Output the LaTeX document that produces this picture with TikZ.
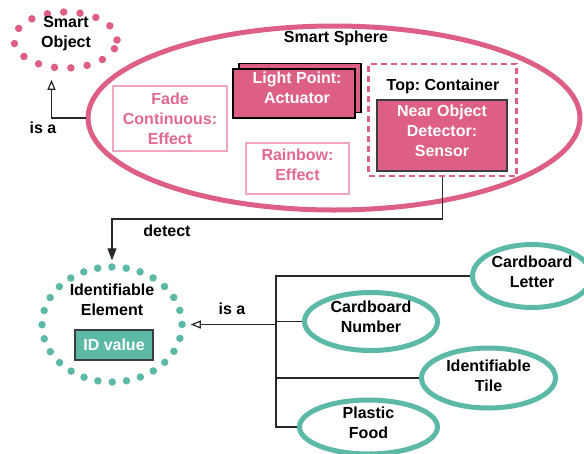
\documentclass[tikz,border=0pt]{standalone}
\usepackage{fontspec}
\setmainfont{Liberation Sans}
\usetikzlibrary{shapes.geometric,arrows.meta,calc}
\definecolor{pk}{RGB}{221,95,133}
\definecolor{pkl}{RGB}{240,165,192}
\definecolor{pkt}{RGB}{226,104,144}
\definecolor{tl}{RGB}{91,185,165}
\definecolor{dk}{RGB}{60,60,60}
\definecolor{ln}{RGB}{40,40,40}
\frenchspacing
\begin{document}
\begin{tikzpicture}[x=1pt,y=-1pt,font=\fontsize{16}{20}\selectfont\bfseries,
  ring/.style={ellipse,draw,inner sep=0pt},
  thickring/.style={ring,line width=5pt},
  dotring/.style={ring,line width=7.5pt,line cap=round},
  effectbox/.style={rectangle,draw=pkl,line width=1.5pt,text=pkt,align=center,inner sep=0pt},
  pinkbox/.style={rectangle,fill=pk,draw=dk,line width=1.2pt,text=white,align=center,inner sep=0pt},
  conn/.style={draw=ln,line width=1.3pt},
  opentip/.style={-{Triangle[open,length=10pt,width=8pt,line width=1.2pt]}},
  filltip/.style={-{Triangle[length=12pt,width=9pt]}},
  txt/.style={align=center,text=black,inner sep=0pt}
]
\useasboundingbox (0,0) rectangle (584,453);

% Smart Sphere
\node[thickring,draw=pk,minimum width=492pt,minimum height=184pt] (sphere) at (334,118) {};
\node[txt] (spherelbl) at (336,38) {Smart Sphere};

% Smart Object
\node[dotring,draw=pk,dash pattern=on 0pt off 16.4pt,minimum width=103pt,minimum height=56pt] (smartobj) at (65.5,40) {};
\node[txt] (smartobjlbl) at (66,34) {Smart\\Object};

% Fade Continuous
\node[effectbox,minimum width=114pt,minimum height=65pt] (fade) at (170,118.5) {Fade\\Continuous:\\Effect};

% Light Point
\node[pinkbox,draw=black,line width=1.5pt,minimum width=122pt,minimum height=49pt] (lightback) at (300,88) {};
\node[pinkbox,draw=black,line width=1.5pt,minimum width=122pt,minimum height=49pt] (light) at (294,93.5) {};
\node[txt,text=white] (lightlbl) at (297,88) {Light Point:\\Actuator};

% Rainbow
\node[effectbox,minimum width=103pt,minimum height=51pt,
  label={[txt,text=pkt,yshift=3.5pt]center:Rainbow:\\Effect}] (rainbow) at (297.5,168.5) {};

% Container
\node[rectangle,draw=pk,line width=2.5pt,dash pattern=on 6pt off 4pt,minimum width=148pt,minimum height=112pt,inner sep=0pt] (container) at (442.5,120) {};
\node[txt] (containerlbl) at (443,86) {Top: Container};
\node[pinkbox,minimum width=130pt,minimum height=71pt,
  label={[txt,text=white,yshift=4.5pt]center:Near Object\\Detector:\\Sensor}] (sensor) at (442,135.5) {};

% Identifiable Element
\node[dotring,draw=tl,dash pattern=on 0pt off 14.35pt,minimum width=140pt,minimum height=115pt] (idelem) at (112,324.5) {};
\node[txt] (idelemlbl) at (112,299.5) {Identifiable\\Element};
\node[rectangle,fill=tl,draw=dk,line width=1.2pt,text=white,minimum width=78pt,minimum height=30pt,inner sep=0pt] (idval) at (114,345) {ID value};

% Subtypes
\node[thickring,draw=tl,minimum width=119pt,minimum height=63pt,
  label={[txt,yshift=4pt]center:Cardboard\\Letter}] (letter) at (532,276) {};
\node[thickring,draw=tl,minimum width=133pt,minimum height=58pt,
  label={[txt,yshift=4.5pt]center:Cardboard\\Number}] (number) at (371,321.5) {};
\node[thickring,draw=tl,minimum width=134pt,minimum height=60pt,
  label={[txt,yshift=2pt]center:Identifiable\\Tile}] (tile) at (488.5,378) {};
\node[thickring,draw=tl,minimum width=138pt,minimum height=54pt,
  label={[txt,yshift=4pt]center:Plastic\\Food}] (food) at (368.5,427) {};

% Connectors
\coordinate (isaturn) at ($(smartobj.south)+(-14,0)$);
\draw[conn,opentip,shorten >=8pt] (sphere.west) -| (isaturn);
\node[txt] (isa1) at (43,128) {is a};

\coordinate (dturn) at (442.5,219);
\draw[conn,filltip,shorten >=3pt] (container.south) -- (dturn) -| (idelem.north);
\node[txt] (detectlbl) at (167,231) {detect};

\coordinate (busT) at (276,276);
\draw[conn] (letter.west) -- (letter.west -| busT) -- (food.west -| busT) -- (food.west);
\draw[conn] (number.west) -- (number.west -| busT);
\draw[conn] (tile.west) -- (tile.west -| busT);
\coordinate (busA) at (idelem.east -| busT);
\draw[conn,opentip,shorten >=5pt] (busA) -- (idelem.east);
\node[txt] (isa2) at (232,309) {is a};
\end{tikzpicture}
\end{document}
